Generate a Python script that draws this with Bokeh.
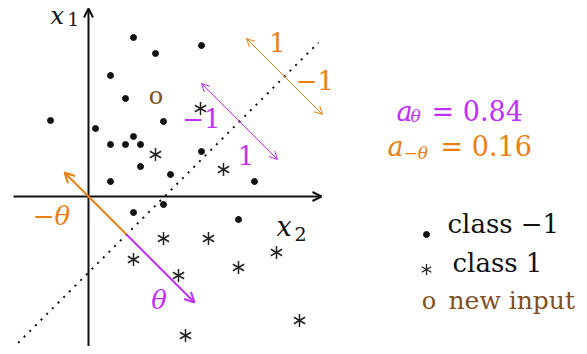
import numpy as np
from bokeh.plotting import figure
from bokeh.models import Range1d, Arrow, OpenHead
from bokeh.core.properties import value
from bokeh.embed import file_html
from bokeh.resources import INLINE

# ---- data (coordinates: origin at the axes' crossing, y up) ----
class_neg_x = [45, 67, 113, 22, 37, 75, -38, 7, 45, 22, 37, 52, 113, 52, 82, 166, 22, 75, 45, 150]
class_neg_y = [159, 143, 151, 121, 98, 75, 76, 68, 60, 52, 52, 52, 45, 30, 22, 15, 15, -8, -16, -23]
class_pos_x = [112, 67, 135, 75, 120, 45, 90, 150, 188, 211, 97]
class_pos_y = [88, 42, 27, -42, -42, -63, -79, -71, -56, -124, -139]
new_input_x = [67]
new_input_y = [97]

boundary_x = [-76, 230]
boundary_y = [-152, 154]

neg_theta_tip = (-24, 24)
foot = (38, -38)
theta_tip = (106, -106)

purple_margin = ((113, 113), (189, 37))
orange_margin = ((158, 158), (234, 82))

a_theta = 0.84
a_neg_theta = 0.16

PURPLE = "#bf30ff"
ORANGE = "#ea7f14"
BROWN = "#80501e"
INK = "#111111"
SERIF = value("DejaVu Serif")
TEXT_DY = 11  # baseline correction for the svg text renderer

p = figure(width=579, height=346, x_range=Range1d(-88, 491), y_range=Range1d(-150, 196),
           output_backend="svg", toolbar_location=None, x_axis_type=None, y_axis_type=None,
           min_border=0, outline_line_color=None, background_fill_color="white")

# axes with arrow heads
p.add_layout(Arrow(x_start=-75, y_start=0, x_end=233, y_end=0, line_width=2, line_color=INK,
                   end=OpenHead(size=9, line_width=2, line_color=INK)))
p.add_layout(Arrow(x_start=0, y_start=-153, x_end=0, y_end=188, line_width=2, line_color=INK,
                   end=OpenHead(size=9, line_width=2, line_color=INK)))

# decision boundary (dotted)
p.line(boundary_x, boundary_y, line_color=INK, line_width=2, line_dash="2 6")

# -theta (orange) and theta (purple) arrows
p.add_layout(Arrow(x_start=foot[0], y_start=foot[1], x_end=neg_theta_tip[0], y_end=neg_theta_tip[1],
                   line_width=2, line_color=ORANGE,
                   end=OpenHead(size=10, line_width=2, line_color=ORANGE)))
p.add_layout(Arrow(x_start=foot[0], y_start=foot[1], x_end=theta_tip[0], y_end=theta_tip[1],
                   line_width=2, line_color=PURPLE,
                   end=OpenHead(size=10, line_width=2, line_color=PURPLE)))

# margin double arrows
for (s, e), c in ((purple_margin, PURPLE), (orange_margin, ORANGE)):
    p.add_layout(Arrow(x_start=s[0], y_start=s[1], x_end=e[0], y_end=e[1], line_width=1, line_color=c,
                       start=OpenHead(size=8, line_width=1, line_color=c),
                       end=OpenHead(size=8, line_width=1, line_color=c)))

# points
p.scatter(class_neg_x, class_neg_y, marker="circle", size=6, color=INK)
for ang in (np.pi / 2, np.pi / 6, -np.pi / 6):
    p.scatter(class_pos_x, class_pos_y, marker="dash", size=13, angle=ang,
              line_color="#222222", line_width=1.5)

def txt(x, y, s, size, color=INK, italic=False, align="left"):
    p.text([x], [y + TEXT_DY], text=[s], text_font=SERIF, text_font_size=size, text_color=color,
           text_font_style="italic" if italic else "normal",
           text_align=align, text_baseline="alphabetic")

# new input marker (a brown letter o centred on the point)
for nx, ny in zip(new_input_x, new_input_y):
    txt(nx + 0.5, ny - 7, "o", "24px", BROWN, align="center")

# axis labels
txt(-38, 170, "x", "24px", italic=True)
txt(-21, 167, "1", "18px")
txt(188, -41, "x", "27px", italic=True)
txt(206, -48, "2", "19px")

# arrow labels
txt(189, 143, "1", "26px", ORANGE, align="center")
txt(226.5, 105, "\u22121", "26px", ORANGE, align="center")
txt(113, 67, "\u22121", "26px", PURPLE, align="center")
txt(157.5, 30, "1", "26px", PURPLE, align="center")
txt(-37, -30, "\u2212\u03b8", "26px", ORANGE, italic=True, align="center")
txt(70.5, -114, "\u03b8", "26px", PURPLE, italic=True, align="center")

# activation values
txt(308, 74, "a", "27px", PURPLE, italic=True)
txt(322, 70, "\u03b8", "17px", PURPLE, italic=True)
txt(343, 74, "= %.2f" % a_theta, "27px", PURPLE)
txt(299, 39, "a", "27px", ORANGE, italic=True)
txt(315, 33, "\u2212\u03b8", "17px", ORANGE, italic=True)
txt(352, 39, "= %.2f" % a_neg_theta, "27px", ORANGE)

# legend
p.scatter([338], [-38], marker="circle", size=6, color=INK)
for ang in (np.pi / 2, np.pi / 6, -np.pi / 6):
    p.scatter([338], [-73], marker="dash", size=11, angle=ang, line_color="#222222", line_width=1.3)
txt(359, -38, "class \u22121", "26px")
txt(364, -77, "class 1", "26px")
txt(340.5, -115, "o", "24px", BROWN, align="center")
txt(360, -115, "new input", "25px", BROWN)

open("out.html", "w").write(file_html(p, INLINE))
